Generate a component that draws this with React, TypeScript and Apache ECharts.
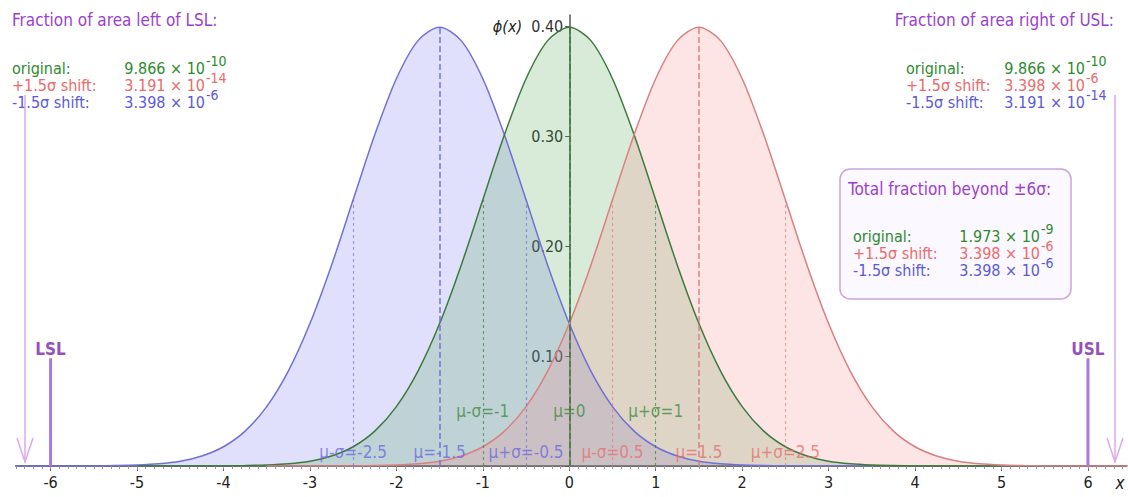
import React, { useEffect, useRef } from "react";
import * as echarts from "echarts";

// ---- data ----
const Z_OFFSETS = [-5, -4.5, -4, -3.75, -3.5, -3.25, -3, -2.75, -2.5, -2.25, -2, -1.75, -1.5, -1.25, -1, -0.75, -0.5, -0.25, 0, 0.25, 0.5, 0.75, 1, 1.25, 1.5, 1.75, 2, 2.25, 2.5, 2.75, 3, 3.25, 3.5, 3.75, 4, 4.5, 5];
const PHI_VALUES = [0.0, 0.0, 0.0001, 0.0004, 0.0009, 0.002, 0.0044, 0.0091, 0.0175, 0.0317, 0.054, 0.0863, 0.1295, 0.1826, 0.242, 0.3011, 0.3521, 0.3867, 0.3989, 0.3867, 0.3521, 0.3011, 0.242, 0.1826, 0.1295, 0.0863, 0.054, 0.0317, 0.0175, 0.0091, 0.0044, 0.002, 0.0009, 0.0004, 0.0001, 0.0, 0.0];
const MEANS = [-1.5, 0, 1.5];
const CURVE_NAMES = ["-1.5σ shift", "original", "+1.5σ shift"];
const SIGMA_STEPS = [-1, 0, 1];
const SIGMA_HEIGHTS = [0.242, 0.3989, 0.242];
const BLUE_LABELS = ["μ-σ=-2.5", "μ=-1.5", "μ+σ=-0.5"];
const GREEN_LABELS = ["μ-σ=-1", "μ=0", "μ+σ=1"];
const RED_LABELS = ["μ-σ=0.5", "μ=1.5", "μ+σ=2.5"];
const X_TICKS = [-6, -5, -4, -3, -2, -1, 0, 1, 2, 3, 4, 5, 6];
const LSL = -6;
const USL = 6;

const LEFT_TITLE = "Fraction of area left of LSL:";
const RIGHT_TITLE = "Fraction of area right of USL:";
const BOX_TITLE = "Total fraction beyond ±6σ:";
const ROW_LABELS = ["original:", "+1.5σ shift:", "-1.5σ shift:"];
const LEFT_VALUES = ["9.866 × 10", "3.191 × 10", "3.398 × 10"];
const LEFT_EXPS = ["-10", "-14", "-6"];
const RIGHT_VALUES = ["9.866 × 10", "3.398 × 10", "3.191 × 10"];
const RIGHT_EXPS = ["-10", "-6", "-14"];
const TOTAL_VALUES = ["1.973 × 10", "3.398 × 10", "3.398 × 10"];
const TOTAL_EXPS = ["-9", "-6", "-6"];

// ---- layout / styles ----
const X_MIN = -6.4;
const X_MAX = 6.44;
const GRID_LEFT = 16;
const GRID_RIGHT = 2;
const PLOT_W = 1128 - GRID_LEFT - GRID_RIGHT;
const FONT = "'DejaVu Sans Condensed', 'Liberation Sans Narrow', 'DejaVu Sans', sans-serif";
const LINE_COLORS = ["#7070d6", "#3d7a3d", "#d98080"];
const FILL_COLORS = ["rgba(110,110,240,0.3)", "rgba(70,160,70,0.3)", "rgba(250,130,130,0.3)"];
const LABEL_COLORS = ["#6b6be0", "#3f8a3f", "#e27272"];
const ROW_COLORS = ["#2f8a2f", "#ea6a6a", "#5a5ad8"];
const PURPLE = "#9b3fcb";

export default function App() {
  const ref = useRef<HTMLDivElement>(null);
  useEffect(() => {
    if (!ref.current) return;
    const chart = echarts.init(ref.current, null, { renderer: "svg" });

    const curveSeries = MEANS.map((mu, ci) => ({
      name: CURVE_NAMES[ci],
      type: "line",
      xAxisIndex: 0,
      yAxisIndex: 0,
      smooth: 0.3,
      showSymbol: false,
      symbol: "none",
      data: Z_OFFSETS.map((z, i) => [z + mu, PHI_VALUES[i]]),
      lineStyle: { color: LINE_COLORS[ci], width: 1.5 },
      areaStyle: { color: FILL_COLORS[ci] },
      z: 2,
      markLine: {
        silent: true,
        symbol: "none",
        label: { show: false },
        data: SIGMA_STEPS.map((s, k) => [
          { coord: [mu + s, 0], lineStyle: { color: LINE_COLORS[ci], type: s === 0 ? [6, 3] : [3, 3], width: s === 0 ? 1.6 : 1.1, opacity: s === 0 ? 0.9 : 0.7 } },
          { coord: [mu + s, SIGMA_HEIGHTS[k]] },
        ]),
      },
    }));

    const labelSets = [BLUE_LABELS, GREEN_LABELS, RED_LABELS];
    const labelLevels = [0.0125, 0.05, 0.0125];
    const labelSeries = MEANS.map((mu, ci) => ({
      type: "scatter",
      symbolSize: 0,
      silent: true,
      z: 5,
      data: SIGMA_STEPS.map((s, k) => ({
        value: [mu + s, labelLevels[ci]],
        label: { formatter: labelSets[ci][k] },
      })),
      label: {
        show: true,
        position: "inside",
        color: LABEL_COLORS[ci],
        fontSize: 17,
        fontFamily: FONT,
      },
    }));

    const specSeries = [
      {
        type: "line",
        symbol: "none",
        data: [[LSL, 0], [LSL, 0.098]],
        lineStyle: { color: "#a77bd6", width: 3 },
        z: 3,
      },
      {
        type: "line",
        symbol: "none",
        data: [[USL, 0], [USL, 0.098]],
        lineStyle: { color: "#a77bd6", width: 3 },
        z: 3,
      },
      {
        type: "scatter",
        symbolSize: 0,
        silent: true,
        data: [
          { value: [LSL, 0.106], label: { formatter: "LSL" } },
          { value: [USL, 0.106], label: { formatter: "USL" } },
        ],
        label: {
          show: true,
          position: "inside",
          color: "#7a1fa8",
          fontSize: 17,
          fontWeight: "bold",
          fontFamily: FONT,
        },
      },
    ];

    const textRows = (
      values: string[],
      exps: string[],
      labelX: number,
      valueRight: number,
      ys: number[]
    ) => {
      const out: any[] = [];
      ROW_LABELS.forEach((lab, i) => {
        out.push({
          type: "text",
          x: labelX,
          y: ys[i],
          style: { text: lab, fill: ROW_COLORS[i], font: `16px ${FONT}`, textAlign: "left", textVerticalAlign: "middle" },
        });
        out.push({
          type: "text",
          x: valueRight,
          y: ys[i],
          style: { text: values[i], fill: ROW_COLORS[i], font: `16px ${FONT}`, textAlign: "right", textVerticalAlign: "middle" },
        });
        out.push({
          type: "text",
          x: valueRight + 1,
          y: ys[i] - 7,
          style: { text: exps[i], fill: ROW_COLORS[i], font: `14px ${FONT}`, textAlign: "left", textVerticalAlign: "middle" },
        });
      });
      return out;
    };

    const arrow = (x: number) => [
      { type: "line", shape: { x1: x, y1: 95, x2: x, y2: 462 }, style: { stroke: "#dba8ec", lineWidth: 1.5 } },
      { type: "polyline", shape: { points: [[x - 8, 438], [x, 462], [x + 8, 438]] }, style: { stroke: "#dba8ec", lineWidth: 1.5, fill: "none" } },
    ];

    const graphic: any[] = [
      { type: "text", x: 12, y: 20, style: { text: LEFT_TITLE, fill: PURPLE, font: `17px ${FONT}`, textAlign: "left", textVerticalAlign: "middle" } },
      { type: "text", x: 1114, y: 20, style: { text: RIGHT_TITLE, fill: PURPLE, font: `17px ${FONT}`, textAlign: "right", textVerticalAlign: "middle" } },
      ...textRows(LEFT_VALUES, LEFT_EXPS, 12, 205, [68, 85, 102]),
      ...textRows(RIGHT_VALUES, RIGHT_EXPS, 906, 1085, [68, 85, 102]),
      {
        type: "rect",
        shape: { x: 840, y: 169, width: 231, height: 130, r: 10 },
        style: { fill: "rgba(252,248,255,0.95)", stroke: "#c8a6dc", lineWidth: 1.5 },
        z: 10,
      },
      { type: "text", x: 848, y: 189, z: 11, style: { text: BOX_TITLE, fill: PURPLE, font: `17px ${FONT}`, textAlign: "left", textVerticalAlign: "middle" } },
      ...textRows(TOTAL_VALUES, TOTAL_EXPS, 853, 1040, [236, 253, 270]).map((e) => ({ ...e, z: 11 })),
      ...arrow(25),
      ...arrow(1115),
      { type: "text", x: 1120, y: 483, style: { text: "x", fill: "#222", font: `italic 17px ${FONT}`, textAlign: "center", textVerticalAlign: "middle" } },
    ];

    const minorTicks: number[] = [];
    for (let k = -64; k <= 64; k++) minorTicks.push(k / 10);

    const zeroOffset = ((0 - X_MIN) / (X_MAX - X_MIN)) * PLOT_W;

    chart.setOption({
      animation: false,
      backgroundColor: "#ffffff",
      grid: { left: GRID_LEFT, right: GRID_RIGHT, top: 15, bottom: 31, containLabel: false, outerBoundsMode: "none" },
      xAxis: [
        {
          type: "value",
          min: X_MIN,
          max: X_MAX,
          axisLine: { onZero: true, lineStyle: { color: "#6e6e6e", width: 2 } },
          axisTick: { show: true, customValues: X_TICKS, length: 5, lineStyle: { color: "#666" } },
          axisLabel: { customValues: X_TICKS, color: "#222", fontSize: 16, fontFamily: FONT, margin: 8 },
          splitLine: { show: false },
        },
        {
          type: "value",
          min: X_MIN,
          max: X_MAX,
          position: "bottom",
          axisLine: { show: false },
          axisTick: { show: true, customValues: minorTicks, length: 3, inside: false, lineStyle: { color: "#999" } },
          axisLabel: { show: false },
          splitLine: { show: false },
        },
      ],
      yAxis: {
        type: "value",
        min: 0,
        max: 0.41,
        interval: 0.1,
        position: "left",
        offset: -zeroOffset,
        axisLine: { show: true, onZero: false, lineStyle: { color: "#555", width: 1.5 } },
        axisTick: { show: true, length: 4, lineStyle: { color: "#555" } },
        splitLine: { show: false },
        axisLabel: {
          color: "#333",
          fontSize: 16,
          fontFamily: FONT,
          margin: 6,
          formatter: (v: number) => (v === 0 ? "" : v > 0.35 ? "{i|ϕ(x)}  " + v.toFixed(2) : v.toFixed(2)),
          rich: { i: { fontStyle: "italic", fontSize: 16, fontFamily: FONT, color: "#222" } },
        },
      },
      series: [...curveSeries, ...labelSeries, ...specSeries],
      graphic,
    });
    return () => chart.dispose();
  }, []);
  return <div ref={ref} style={{ position: "absolute", left: 0, top: 0, width: 1128, height: 497 }} />;
}
